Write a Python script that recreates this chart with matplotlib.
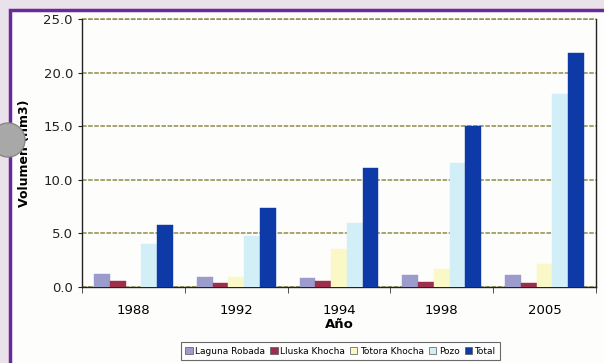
import numpy as np
import matplotlib.pyplot as plt
from matplotlib.patches import Rectangle, Ellipse

# Data (volumes in hm3)
years = ['1988', '1992', '1994', '1998', '2005']
laguna_robada = [1.2, 0.9, 0.8, 1.1, 1.1]
lluska_khocha = [0.6, 0.4, 0.6, 0.5, 0.4]
totora_khocha = [0.0, 0.9, 3.5, 1.7, 2.1]
pozo = [4.0, 4.8, 6.0, 11.6, 18.0]
total = [5.8, 7.4, 11.1, 15.0, 21.8]

series = [laguna_robada, lluska_khocha, totora_khocha, pozo, total]
names = ['Laguna Robada', 'Lluska Khocha', 'Totora Khocha', 'Pozo', 'Total']
colors = ['#9c9ccc', '#9c2f4c', '#fbf8c8', '#d2eef6', '#0d3aa6']

fig = plt.figure(figsize=(6.04, 3.63), dpi=100)
fig.patch.set_facecolor('#e9e2ea')

# white panel with purple frame
fig.patches.append(Rectangle((10 / 604, -0.05), 1.0, 1 - 10 / 363 + 0.05,
                             transform=fig.transFigure, facecolor='#fdfdfb',
                             edgecolor='#6a2a9a', linewidth=2.5, zorder=-2))

ax = fig.add_axes([82 / 604, 1 - 287 / 363, 514 / 604, 268 / 363])
ax.set_facecolor('#fdfdfb')

x = np.arange(len(years))
w = 0.153
for i, (vals, name, c) in enumerate(zip(series, names, colors)):
    ax.bar(x + (i - 2) * w, vals, w, color=c, label=name, zorder=3,
           edgecolor=c, linewidth=0.3)

ax.set_ylim(0, 25)
ax.set_xlim(-0.5, len(years) - 0.5)
ax.set_yticks(np.arange(0, 25.1, 5))
ax.set_yticklabels([f'{v:.1f}' for v in np.arange(0, 25.1, 5)])
ax.set_xticks(x)
ax.set_xticklabels(years)
ax.set_xticks(np.arange(-0.5, len(years), 1), minor=True)
ax.tick_params(axis='x', which='major', length=0, pad=12, labelsize=9.5)
ax.tick_params(axis='x', which='minor', length=4, direction='out', color='#333333')
ax.tick_params(axis='y', length=3, labelsize=9.5, colors='#222222')
ax.yaxis.grid(True, color='#8f8c4a', linestyle=(0, (3, 1)), linewidth=1.1, zorder=0)
ax.axhline(25, color='#8f8c4a', linestyle=(0, (3, 1)), linewidth=1.1, clip_on=False)
ax.set_axisbelow(True)

for s in ['left', 'bottom', 'right']:
    ax.spines[s].set_color('#222222')
    ax.spines[s].set_linewidth(1.0)
ax.spines['top'].set_visible(False)

ax.set_ylabel('Volumen (hm3)', fontsize=9, fontweight='bold', labelpad=9)
ax.set_xlabel('Año', fontsize=9.5, fontweight='bold', labelpad=1)

leg = ax.legend(loc='upper center', bbox_to_anchor=(0.503, -0.19), ncol=5,
                fontsize=6.5, frameon=True, fancybox=False, edgecolor='#444444',
                handlelength=0.8, handleheight=0.8, handletextpad=0.3,
                columnspacing=0.55, borderpad=0.5)
leg.get_frame().set_linewidth(0.8)
for h in leg.legend_handles:
    h.set_edgecolor('#555555')
    h.set_linewidth(0.5)

# grey punch-hole on the left edge
fig.patches.append(Ellipse((8 / 604, 1 - 140 / 363), 34 / 604, 34 / 363,
                           transform=fig.transFigure, facecolor='#a8a8a8',
                           edgecolor='#888888', zorder=5))

fig.savefig('out.png', dpi=100, facecolor=fig.get_facecolor())
